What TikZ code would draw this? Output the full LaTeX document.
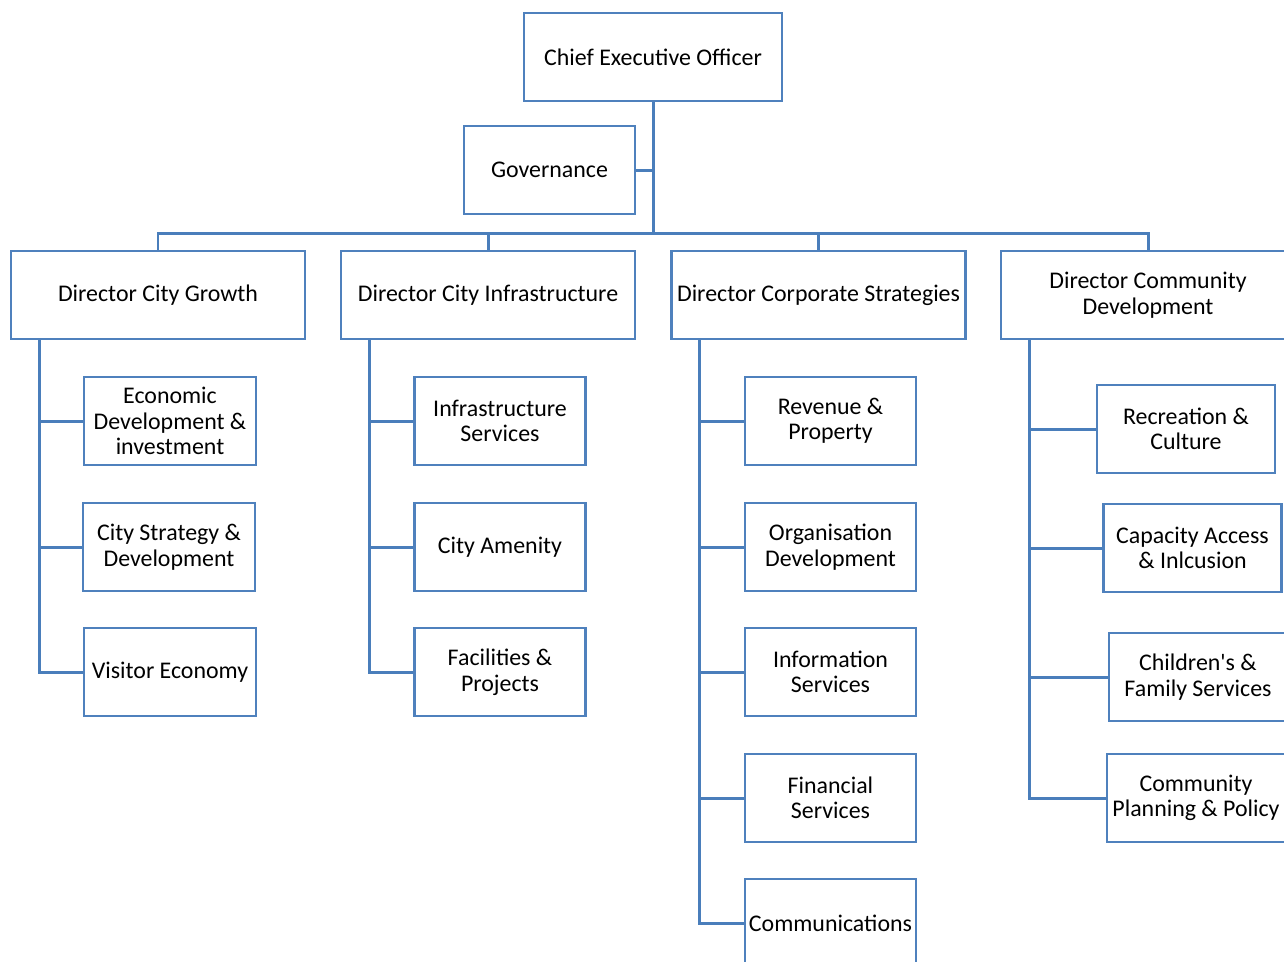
\documentclass[tikz,border=0pt]{standalone}
\usepackage{fontspec}
\setmainfont{Carlito}
\definecolor{boxblue}{HTML}{4F81BD}
\definecolor{linkblue}{HTML}{4A7EBB}
\begin{document}
\begin{tikzpicture}[x=0.02cm, y=-0.02cm,
  unit/.style={draw=boxblue, line width=1.4pt, fill=white, align=center, inner sep=1pt,
    minimum height=1.76cm, font=\fontsize{13.6}{14.5}\selectfont},
  link/.style={draw=linkblue, line width=1.7pt}]
\useasboundingbox (0,0) rectangle (1284,961);
\clip (0,0) rectangle (1284,961);
\node[unit, minimum width=5.16cm] (ceo) at (653,57){Chief Executive Officer};
\node[unit, minimum width=3.42cm] (gov) at (549.5,170){Governance};
\coordinate (bus) at (653,233);
\node[unit, minimum width=5.88cm] (dgrowth) at (158,295){Director City Growth};
\node[unit, minimum width=5.88cm] (dinfra) at (488,295){Director City Infrastructure};
\node[unit, minimum width=5.88cm] (dcorp) at (818.5,295){Director Corporate Strategies};
\node[unit, minimum width=5.88cm] (dcomm) at (1148,295){Director Community\\Development};
\draw[link](ceo) -- (bus);
\draw[link](gov) -- (gov -| ceo);
\draw[link](dgrowth.north) -- (dgrowth.north |- bus) -- (dcomm.north |- bus) -- (dcomm.north);
\draw[link](dinfra.north) -- (dinfra.north |- bus);
\draw[link](dcorp.north) -- (dcorp.north |- bus);
% City Growth
\node[unit, minimum width=3.44cm] (econ) at (170,421){Economic\\Development \&\\investment};
\node[unit, minimum width=3.44cm] (strat) at (169,547){City Strategy \&\\Development};
\node[unit, minimum width=3.44cm] (visit) at (170,672){Visitor Economy};
\draw[link]([xshift=0.6cm]dgrowth.south west) |- (econ);
\draw[link]([xshift=0.6cm]dgrowth.south west) |- (strat);
\draw[link]([xshift=0.6cm]dgrowth.south west) |- (visit);
% City Infrastructure
\node[unit, minimum width=3.42cm] (infserv) at (500,421){Infrastructure\\Services};
\node[unit, minimum width=3.42cm] (amen) at (500,547){City Amenity};
\node[unit, minimum width=3.42cm] (facil) at (500,672){Facilities \&\\Projects};
\draw[link]([xshift=0.6cm]dinfra.south west) |- (infserv);
\draw[link]([xshift=0.6cm]dinfra.south west) |- (amen);
\draw[link]([xshift=0.6cm]dinfra.south west) |- (facil);
% Corporate Strategies
\node[unit, minimum width=3.42cm] (rev) at (830.5,421){Revenue \&\\Property};
\node[unit, minimum width=3.42cm] (org) at (830.5,547){Organisation\\Development};
\node[unit, minimum width=3.42cm] (info) at (830.5,672){Information\\Services};
\node[unit, minimum width=3.42cm] (fin) at (830.5,798){Financial\\Services};
\node[unit, minimum width=3.42cm] (comms) at (830.5,923){Communications};
\draw[link]([xshift=0.58cm]dcorp.south west) |- (rev);
\draw[link]([xshift=0.58cm]dcorp.south west) |- (org);
\draw[link]([xshift=0.58cm]dcorp.south west) |- (info);
\draw[link]([xshift=0.58cm]dcorp.south west) |- (fin);
\draw[link]([xshift=0.58cm]dcorp.south west) |- (comms);
% Community Development
\node[unit, minimum width=3.56cm] (rec) at (1186,429){Recreation \&\\Culture};
\node[unit, minimum width=3.56cm] (cap) at (1192.5,548){Capacity Access\\\& Inlcusion};
\node[unit, minimum width=3.56cm] (child) at (1198,677){Children\textquotesingle s \&\\Family Services};
\node[unit, minimum width=3.56cm] (plan) at (1196,798){Community\\Planning \& Policy};
\draw[link]([xshift=0.6cm]dcomm.south west) |- (rec);
\draw[link]([xshift=0.6cm]dcomm.south west) |- (cap);
\draw[link]([xshift=0.6cm]dcomm.south west) |- (child);
\draw[link]([xshift=0.6cm]dcomm.south west) |- (plan);
\end{tikzpicture}
\end{document}
